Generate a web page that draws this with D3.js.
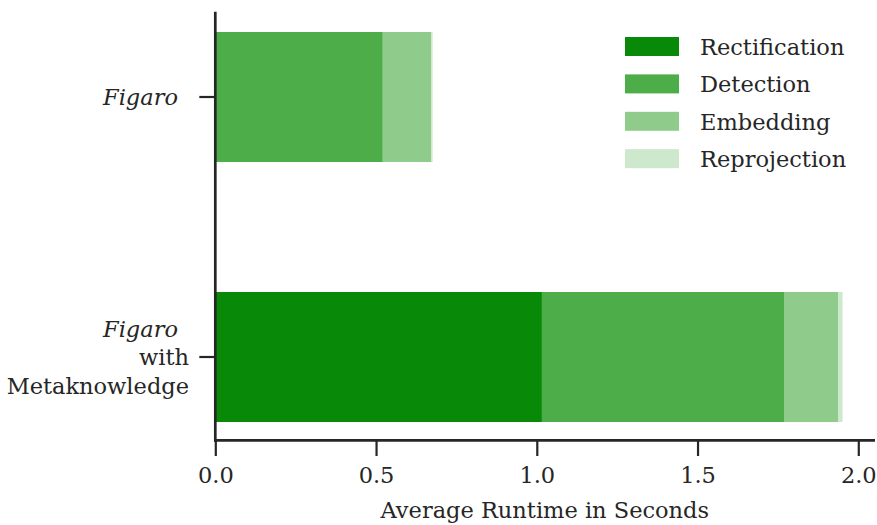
<!DOCTYPE html>
<html>
<head>
<meta charset="utf-8">
<script src="https://cdn.jsdelivr.net/npm/d3@7"></script>
<style>
  body { margin: 0; background: #fff; }
  svg text { font-family: "DejaVu Serif", serif; fill: #262626; }
</style>
</head>
<body>
<svg id="chart" width="877" height="525"></svg>
<script>
const categories = ["Figaro", "Figaro with Metaknowledge"];
const stages = ["Rectification", "Detection", "Embedding", "Reprojection"];
const rectification = [0.0, 1.016];
const detection = [0.521, 0.753];
const embedding = [0.151, 0.168];
const reprojection = [0.004, 0.014];
const xTicks = [0.0, 0.5, 1.0, 1.5, 2.0];
const colors = ["#088a08", "#4dad48", "#8fcb8a", "#cde8cc"];

const data = categories.map((c, i) => ({
  cat: c,
  Rectification: rectification[i],
  Detection: detection[i],
  Embedding: embedding[i],
  Reprojection: reprojection[i]
}));

const svg = d3.select("#chart");
const ink = "#262626";
const fs = 22.5;

const x = d3.scaleLinear().domain([0, 2.052]).range([215.3, 875]);
const y = d3.scaleBand().domain(categories).range([32, 422]).paddingInner(0.5).paddingOuter(0);
const color = d3.scaleOrdinal().domain(stages).range(colors);

const series = d3.stack().keys(stages)(data);

svg.append("g").selectAll("g").data(series).join("g")
  .attr("fill", d => color(d.key))
  .selectAll("rect").data(d => d).join("rect")
  .attr("x", d => x(d[0]))
  .attr("width", d => Math.max(0, x(d[1]) - x(d[0])))
  .attr("y", d => y(d.data.cat))
  .attr("height", y.bandwidth());

// X axis
const xAxis = svg.append("g").attr("transform", "translate(0,441)")
  .call(d3.axisBottom(x).tickValues(xTicks).tickFormat(d3.format(".1f")).tickSize(15).tickPadding(11));
xAxis.select(".domain").remove();
xAxis.selectAll(".tick line").attr("stroke", ink).attr("stroke-width", 2.2);
xAxis.selectAll(".tick text").attr("font-size", fs).attr("fill", ink)
  .style("font-family", "'DejaVu Serif', serif");

// Y axis ticks
const yAxis = svg.append("g").attr("transform", "translate(215.3,0)")
  .call(d3.axisLeft(y).tickSize(16).tickFormat(""));
yAxis.select(".domain").remove();
yAxis.selectAll(".tick line").attr("stroke", ink).attr("stroke-width", 2.2);

// Y labels
const yc0 = y(categories[0]) + y.bandwidth() / 2;
const yc1 = y(categories[1]) + y.bandwidth() / 2;
svg.append("text").attr("x", 178).attr("y", yc0).attr("dy", "0.35em")
  .attr("text-anchor", "end").attr("font-size", fs).attr("font-style", "italic").text("Figaro");
const lbl = svg.append("text").attr("text-anchor", "end").attr("font-size", fs);
lbl.append("tspan").attr("x", 178).attr("y", yc1 - 28).attr("dy", "0.35em").attr("font-style", "italic").text("Figaro");
lbl.append("tspan").attr("x", 189).attr("y", yc1).attr("dy", "0.35em").text("with");
lbl.append("tspan").attr("x", 189).attr("y", yc1 + 29).attr("dy", "0.35em").text("Metaknowledge");

// Spines
svg.append("line").attr("x1", 215.3).attr("x2", 215.3).attr("y1", 11.7).attr("y2", 441.7)
  .attr("stroke", ink).attr("stroke-width", 2.7);
svg.append("line").attr("x1", 214).attr("x2", 875).attr("y1", 440.3).attr("y2", 440.3)
  .attr("stroke", ink).attr("stroke-width", 2.7);

// X label
svg.append("text").attr("x", x(1.0) + 8).attr("y", 518).attr("text-anchor", "middle")
  .attr("font-size", fs).text("Average Runtime in Seconds");

// Legend
const leg = svg.append("g");
stages.forEach((s, i) => {
  const yy = 37 + i * 37.4;
  leg.append("rect").attr("x", 625).attr("y", yy).attr("width", 54).attr("height", 19).attr("fill", color(s));
  leg.append("text").attr("x", 700).attr("y", yy + 18).attr("font-size", fs).text(s);
});
</script>
</body>
</html>
